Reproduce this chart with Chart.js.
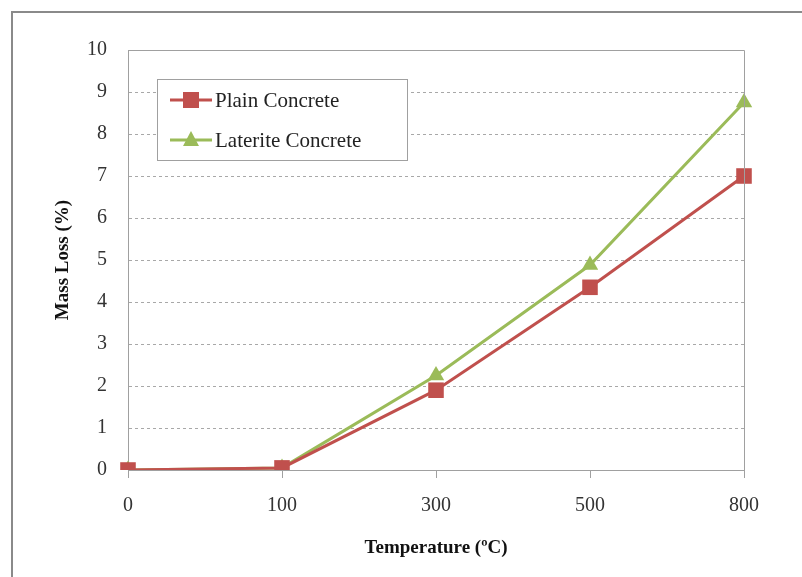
<!DOCTYPE html>
<html>
<head>
<meta charset="utf-8">
<script src="https://cdn.jsdelivr.net/npm/chart.js@4"></script>
<style>
  html, body { margin: 0; padding: 0; background: #fff; overflow: hidden; }
  #graphe { display: block; }
</style>
</head>
<body>
<canvas id="graphe" width="802" height="577"></canvas>
<script>
// valeurs
const temperatures = ['0', '100', '300', '500', '800'];
const plainConcrete = [0, 0.05, 1.9, 4.35, 7.0];
const lateriteConcrete = [0, 0.05, 2.25, 4.88, 8.75];
const yTicks = [0, 1, 2, 3, 4, 5, 6, 7, 8, 9, 10];

const ROUGE = '#C0504D';
const VERT = '#9BBB59';
const serif = 'Liberation Serif, Times New Roman, serif';

// cadre exterieur + bordure de la zone de tracé
const cadre = {
    id: 'cadre',
    beforeDraw(chart) {
        const ctx = chart.ctx;
        ctx.save();
        ctx.fillStyle = '#fff';
        ctx.fillRect(0, 0, chart.width, chart.height);
        ctx.strokeStyle = '#8a8a8a';
        ctx.lineWidth = 2;
        ctx.strokeRect(12, 12, chart.width + 10, chart.height + 10);
        ctx.restore();
    },
    afterDatasetsDraw(chart) {
        const a = chart.chartArea;
        const ctx = chart.ctx;
        ctx.save();
        ctx.strokeStyle = '#a0a0a0';
        ctx.lineWidth = 1;
        ctx.beginPath();
        ctx.moveTo(a.left, a.top + 0.5);
        ctx.lineTo(a.right + 0.5, a.top + 0.5);
        ctx.lineTo(a.right + 0.5, a.bottom);
        ctx.stroke();
        ctx.restore();
    }
};

// légende dans la zone de tracé
const legendeInterne = {
    id: 'legendeInterne',
    afterDraw(chart) {
        const ctx = chart.ctx;
        const x = 157, y = 79, w = 250, h = 81;
        ctx.save();
        ctx.fillStyle = '#fff';
        ctx.fillRect(x, y, w, h);
        ctx.strokeStyle = '#a0a0a0';
        ctx.lineWidth = 1;
        ctx.strokeRect(x + 0.5, y + 0.5, w, h);
        chart.data.datasets.forEach((ds, i) => {
            const cy = y + 21 + i * 40;
            ctx.strokeStyle = ds.borderColor;
            ctx.lineWidth = 3;
            ctx.beginPath();
            ctx.moveTo(170, cy);
            ctx.lineTo(212, cy);
            ctx.stroke();
            ctx.fillStyle = ds.backgroundColor;
            if (ds.pointStyle === 'rect') {
                ctx.fillRect(183, cy - 8, 16, 16);
            } else {
                ctx.beginPath();
                ctx.moveTo(191, cy - 9);
                ctx.lineTo(199, cy + 6);
                ctx.lineTo(183, cy + 6);
                ctx.closePath();
                ctx.fill();
            }
            ctx.fillStyle = '#222';
            ctx.font = '21px ' + serif;
            ctx.textBaseline = 'middle';
            ctx.fillText(ds.label, 215, cy + 1);
        });
        ctx.restore();
    }
};

const chart = new Chart(document.getElementById('graphe').getContext('2d'), {
    type: 'line',
    data: {
        labels: temperatures,
        datasets: [{
            label: 'Plain Concrete',
            data: plainConcrete,
            borderColor: ROUGE,
            backgroundColor: ROUGE,
            borderWidth: 3,
            pointStyle: 'rect',
            pointRadius: 11,
            pointBorderWidth: 0,
            tension: 0
        }, {
            label: 'Laterite Concrete',
            data: lateriteConcrete,
            borderColor: VERT,
            backgroundColor: VERT,
            borderWidth: 3,
            pointStyle: 'triangle',
            pointRadius: 9.5,
            pointBorderWidth: 0,
            tension: 0
        }]
    },
    options: {
        responsive: false,
        animation: false,
        devicePixelRatio: 1,
        layout: { padding: { left: 40, right: 58, top: 50, bottom: 0 } },
        plugins: {
            legend: { display: false },
            tooltip: { enabled: false }
        },
        scales: {
            x: {
                offset: false,
                afterFit(scale) { scale.height = 107; },
                grid: { drawOnChartArea: false, drawTicks: true, tickLength: 8, color: '#a0a0a0' },
                border: { display: true, color: '#a0a0a0', width: 1 },
                ticks: { color: '#333', padding: 16, font: { family: serif, size: 20 } },
                title: {
                    display: true,
                    text: 'Temperature (ºC)',
                    color: '#111',
                    padding: { top: 0, bottom: 18 },
                    font: { family: serif, size: 19, weight: 'bold' }
                }
            },
            y: {
                min: 0,
                max: 10,
                afterFit(scale) { scale.width = 88; },
                afterBuildTicks(scale) { scale.ticks = yTicks.map(v => ({ value: v })); },
                grid: { drawTicks: false, color: '#a8a8a8', lineWidth: 1 },
                border: { display: true, color: '#a0a0a0', width: 1, dash: [3, 3] },
                ticks: { color: '#333', padding: 21, font: { family: serif, size: 20 } },
                title: {
                    display: true,
                    text: 'Mass Loss (%)',
                    color: '#111',
                    padding: { top: 12, bottom: 0 },
                    font: { family: serif, size: 19, weight: 'bold' }
                }
            }
        }
    },
    plugins: [cadre, legendeInterne]
});
</script>
</body>
</html>
